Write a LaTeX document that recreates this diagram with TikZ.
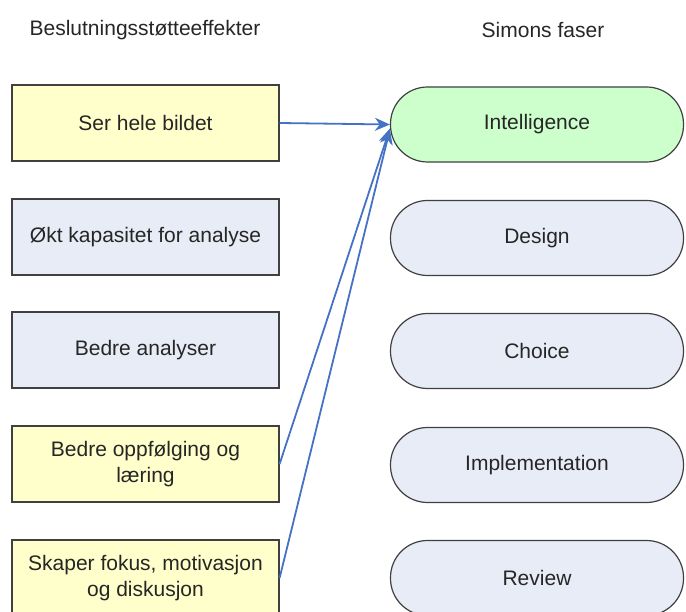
\documentclass[tikz,border=0pt]{standalone}
\usepackage{fontspec}
\setmainfont{Liberation Sans}
\usetikzlibrary{arrows.meta}
\definecolor{gulboks}{RGB}{255,255,204}
\definecolor{blaaboks}{RGB}{232,236,246}
\definecolor{groennboks}{RGB}{204,255,204}
\definecolor{pilfarge}{RGB}{68,114,196}
\begin{document}
\begin{tikzpicture}[x=1pt, y=-1pt,
    tekst/.style={text=black!85, font=\fontsize{21}{26}\selectfont},
    effekt/.style={tekst, draw=black!75, line width=1.2pt, fill=blaaboks,
        minimum width=267pt, minimum height=76pt, align=center, inner sep=2pt},
    fase/.style={tekst, draw=black!75, line width=1.2pt, fill=blaaboks,
        minimum width=293pt, minimum height=75pt, rounded corners=37pt},
    pil/.style={draw=pilfarge, line width=1.8pt, -{Stealth[length=15pt,width=13pt]}}]
    \useasboundingbox (0,0) rectangle (686,612);
    % overskrifter
    \node[tekst] (tittel1) at (145,30) {Beslutningsstøtteeffekter};
    \node[tekst] (tittel2) at (543,30) {Simons faser};
    % effekter
    \node[effekt, fill=gulboks] (bilde) at (145.5,123) {Ser hele bildet};
    \node[effekt] (kapasitet) at (145.5,237) {Økt kapasitet for analyse};
    \node[effekt] (analyser) at (145.5,350) {Bedre analyser};
    \node[effekt, fill=gulboks] (laering) at (145.5,464) {Bedre oppfølging og\\læring};
    \node[effekt, fill=gulboks] (fokus) at (145.5,578) {Skaper fokus, motivasjon\\og diskusjon};
    % faser
    \node[fase, fill=groennboks] (intel) at (537,124.5) {Intelligence};
    \node[fase] (design) at (537,238) {Design};
    \node[fase] (choice) at (537,351) {Choice};
    \node[fase] (impl) at (537,465) {Implementation};
    \node[fase] (review) at (537,578) {Review};
    % piler
    \draw[pil] (bilde.east) -- (intel.west);
    \draw[pil] (laering.east) -- ([yshift=-4pt]intel.west);
    \draw[pil] (fokus.east) -- ([yshift=-5pt]intel.west);
\end{tikzpicture}
\end{document}
